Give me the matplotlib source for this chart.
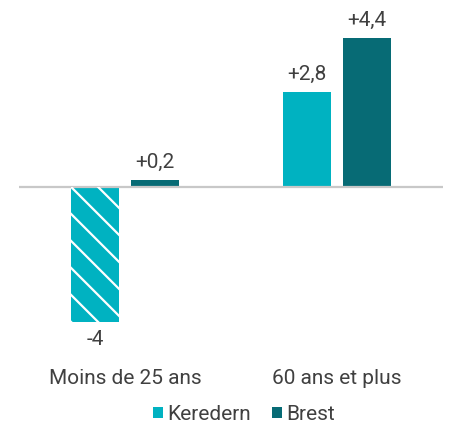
import matplotlib.pyplot as plt
from matplotlib.lines import Line2D
import numpy as np

plt.rcParams['font.family'] = ['Roboto', 'DejaVu Sans']

categories = ["Moins de 25 ans", "60 ans et plus"]
series = ["Keredern", "Brest"]
keredern = [-4.0, 2.8]
brest = [0.2, 4.4]
labels_k = ["-4", "+2,8"]
labels_b = ["+0,2", "+4,4"]

c_ker = "#00B2C1"
c_bre = "#076B75"
txt = "#404040"

fig = plt.figure(figsize=(4.49, 4.25), dpi=100)
ax = fig.add_axes([19 / 449, 70 / 425, 424 / 449, 345 / 425])

x = np.arange(len(categories))
w = 0.226
off = 0.1415
bars_k = ax.bar(x - off, keredern, w, color=c_ker, label=series[0])
bars_b = ax.bar(x + off, brest, w, color=c_bre, label=series[1])

ax.set_xlim(-0.5, 1.5)
ax.set_ylim(-4.98, 5.24)
ax.axhline(0, color="#C8C8C8", lw=1.6, zorder=3)

for bars, labs in ((bars_k, labels_k), (bars_b, labels_b)):
    for b, lab in zip(bars, labs):
        h = b.get_height()
        cx = b.get_x() + b.get_width() / 2
        if h >= 0:
            ax.annotate(lab, (cx, h), xytext=(0, 6), textcoords="offset points",
                        ha="center", va="bottom", fontsize=15, color=txt)
        else:
            ax.annotate(lab, (cx, h), xytext=(0, -6), textcoords="offset points",
                        ha="center", va="top", fontsize=15, color=txt)

# white diagonal hatch on the negative bar
fig.canvas.draw()
for b in bars_k:
    if b.get_height() < 0:
        bb = b.get_window_extent()
        step = 27
        start = bb.x0 - bb.height
        k = 0
        while start + k * step < bb.x1 + 5:
            x0 = start + k * step
            ln = Line2D([x0 - 20, x0 + bb.height + 20], [bb.y1 + 20, bb.y0 - 20],
                        transform=None, color="white", lw=1.6, zorder=2.5)
            ln.set_clip_path(b)
            fig.add_artist(ln)
            k += 1

ax.set_xticks(x)
ax.set_xticklabels(categories, fontsize=15, color=txt)
ax.tick_params(axis="x", length=0, pad=10)
ax.set_yticks([])
for s in ax.spines.values():
    s.set_visible(False)

ax.legend(handles=[bars_k, bars_b], labels=series, loc="center", bbox_to_anchor=(0.53, -0.172),
          ncol=2, frameon=False, fontsize=15, handlelength=0.5, handleheight=0.5,
          handletextpad=0.2, columnspacing=1.0, labelcolor=txt, borderpad=0.1)

fig.savefig("out.png", dpi=100)
